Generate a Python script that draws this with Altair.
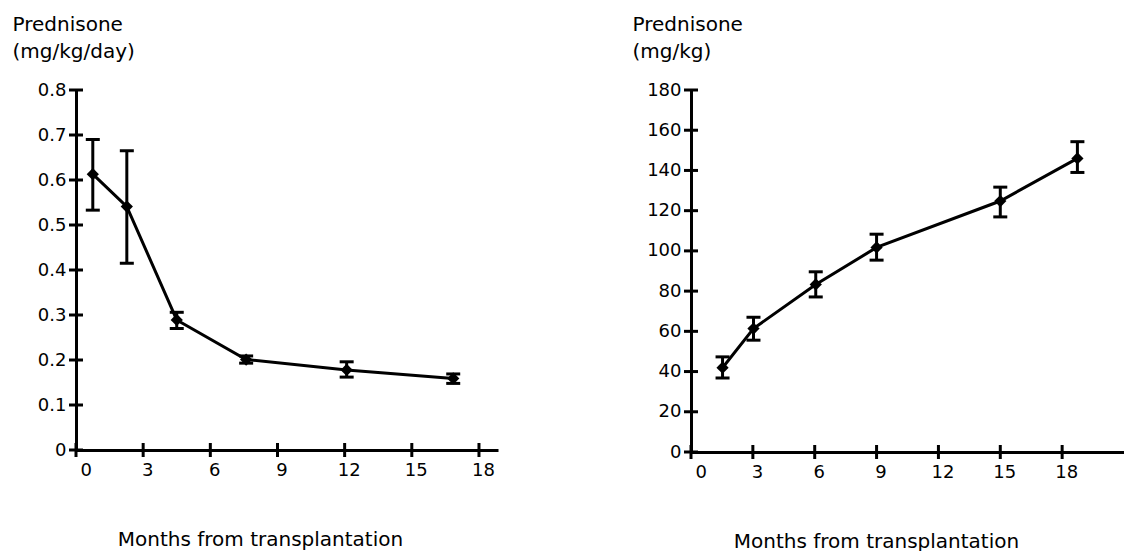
import altair as alt
import pandas as pd

# Left panel: daily dose
months_a = [0.75, 2.27, 4.5, 7.6, 12.09, 16.85]
dose_a = [0.613, 0.541, 0.289, 0.201, 0.178, 0.159]
dose_a_hi = [0.690, 0.665, 0.306, 0.209, 0.196, 0.169]
dose_a_lo = [0.533, 0.415, 0.270, 0.193, 0.162, 0.148]

# Right panel: cumulative dose
months_b = [1.53, 3.03, 6.05, 9.0, 15.0, 18.74]
dose_b = [41.9, 61.4, 83.3, 101.7, 124.8, 146.0]
dose_b_hi = [47.3, 67.0, 89.6, 108.3, 131.7, 154.3]
dose_b_lo = [36.8, 55.6, 77.1, 95.4, 116.9, 139.0]

x_ticks = [0, 3, 6, 9, 12, 15, 18]
y_ticks_a = [0, 0.1, 0.2, 0.3, 0.4, 0.5, 0.6, 0.7, 0.8]
y_ticks_b = [0, 20, 40, 60, 80, 100, 120, 140, 160, 180]

FONT = "DejaVu Sans"
BLACK = "#000000"


def panel(months, val, hi, lo, yticks, ydom, xdom, ytitle, width, height, title_x, fmt, xtitle_x):
    df = pd.DataFrame({"m": months, "v": val, "hi": hi, "lo": lo})
    xt = pd.DataFrame({"t": x_ticks})
    yt = pd.DataFrame({"t": yticks})
    xs = alt.Scale(domain=xdom, nice=False, zero=False)
    ys = alt.Scale(domain=ydom, nice=False, zero=False)
    x_axis = alt.Axis(values=x_ticks, ticks=False, grid=False, domainWidth=3,
                      domainColor=BLACK, labelFont=FONT, labelFontSize=18,
                      labelColor=BLACK, labelPadding=11, labelOffset=4,
                      title="Months from transplantation", titleFont=FONT,
                      titleFontSize=20, titleFontWeight="normal", titleColor=BLACK,
                      titleX=xtitle_x, titleY=79, titleAlign="center")
    y_axis = alt.Axis(values=yticks, ticks=False, grid=False, domainWidth=3,
                      domainColor=BLACK, labelFont=FONT, labelFontSize=18,
                      labelColor=BLACK, labelPadding=10, format=fmt,
                      title=ytitle, titleFont=FONT, titleFontSize=20,
                      titleFontWeight="normal", titleColor=BLACK, titleAngle=0,
                      titleAlign="left", titleBaseline="top", titleX=title_x,
                      titleY=-76, titleLineHeight=27)
    base = alt.Chart(df)
    line = base.mark_line(color=BLACK, strokeWidth=3).encode(
        x=alt.X("m:Q", scale=xs, axis=x_axis),
        y=alt.Y("v:Q", scale=ys, axis=y_axis),
    )
    pts = base.mark_point(shape="diamond", filled=True, color=BLACK, size=150, opacity=1).encode(
        x=alt.X("m:Q", scale=xs), y=alt.Y("v:Q", scale=ys))
    bars = base.mark_rule(color=BLACK, strokeWidth=3).encode(
        x=alt.X("m:Q", scale=xs), y=alt.Y("lo:Q", scale=ys), y2="hi:Q")
    cap_hi = base.mark_tick(color=BLACK, thickness=3, size=14, orient="horizontal", opacity=1).encode(
        x=alt.X("m:Q", scale=xs), y=alt.Y("hi:Q", scale=ys))
    cap_lo = base.mark_tick(color=BLACK, thickness=3, size=14, orient="horizontal", opacity=1).encode(
        x=alt.X("m:Q", scale=xs), y=alt.Y("lo:Q", scale=ys))
    ytk = alt.Chart(yt).mark_tick(color=BLACK, thickness=3, size=14, orient="horizontal", opacity=1).encode(
        y=alt.Y("t:Q", scale=ys), x=alt.value(0))
    xtk = alt.Chart(xt).mark_tick(color=BLACK, thickness=3, size=14, orient="vertical", opacity=1).encode(
        x=alt.X("t:Q", scale=xs), y=alt.value(height))
    return alt.layer(line, bars, cap_hi, cap_lo, pts, ytk, xtk).properties(width=width, height=height)


left = panel(months_a, dose_a, dose_a_hi, dose_a_lo, y_ticks_a, [0, 0.8], [0, 18.85],
             ["Prednisone", "(mg/kg/day)"], 422, 360, -64, ".1~f", 184)
right = panel(months_b, dose_b, dose_b_hi, dose_b_lo, y_ticks_b, [0, 180], [0, 21],
              ["Prednisone", "(mg/kg)"], 433, 362, -59, "d", 185)

chart = alt.hconcat(left, right, spacing=134).properties(
    padding={"left": 12, "top": 14, "right": 0, "bottom": 0},
    background="white",
).configure_view(strokeWidth=0, stroke="transparent")

chart.save("out.html", embed_options={"renderer": "svg", "actions": False})
